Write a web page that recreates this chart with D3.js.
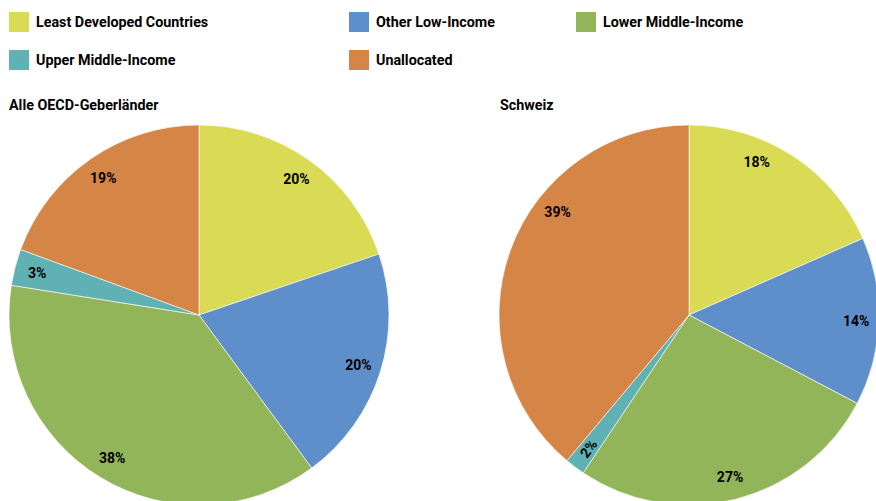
<!DOCTYPE html>
<html>
<head>
<meta charset="utf-8">
<script src="https://cdn.jsdelivr.net/npm/d3@7"></script>
<style>
  body { margin:0; background:#fff; }
  text { font-family: Roboto, "Open Sans", sans-serif; font-weight:bold; fill:#000; }
</style>
</head>
<body>
<svg id="chart" width="876" height="501"></svg>
<script>
// ---data---
var categories = ["Least Developed Countries","Other Low-Income","Lower Middle-Income","Upper Middle-Income","Unallocated"]
var colors = ["#d8db53","#5f8fcb","#93b55a","#5fb1b3","#d58545"]
var oecdValues = [19.8, 20.1, 37.6, 3.1, 19.4]
var oecdLabels = ["20%","20%","38%","3%","19%"]
var chValues = [18.4, 14.3, 26.7, 1.7, 38.9]
var chLabels = ["18%","14%","27%","2%","39%"]

// where the label sits across its slice (0.5 = middle), like the original
var oecdLabelFrac = [0.5, 0.5, 0.5, 0.5, 0.5]
var chLabelFrac = [0.36, 0.5, 0.5, 0.5, 0.63]

var svg = d3.select("#chart")

//---legend---
var legendPos = [[9,22],[349,22],[576,22],[9,60],[349,60]]
categories.forEach(function(c,i){
  var g = svg.append("g").attr("transform","translate("+legendPos[i][0]+","+legendPos[i][1]+")")
  g.append("rect").attr("x",0).attr("y",-10).attr("width",20).attr("height",20).attr("fill",colors[i])
  g.append("text").attr("x",27).attr("y",5).attr("font-size",14.3).text(c)
})

//---pie builder---
function buildPie(title, values, labels, frac, cx, cy, titleX, rotateSmall)
{
  var r = 190
  svg.append("text").attr("x",titleX).attr("y",110).attr("font-size",14.3).text(title)

  var pie = d3.pie().sort(null).value(function(d){ return d })
  var arc = d3.arc().innerRadius(0).outerRadius(r)
  var lr = r*0.88

  var g = svg.append("g").attr("transform","translate("+cx+","+cy+")")
  var arcs = pie(values)

  g.selectAll("path").data(arcs).enter().append("path")
   .attr("d",arc)
   .attr("fill",function(d,i){ return colors[i] })
   .attr("stroke","#fff").attr("stroke-width",0.6)

  g.selectAll("text.lbl").data(arcs).enter().append("text")
   .attr("class","lbl")
   .attr("font-size",14)
   .attr("text-anchor","middle")
   .attr("dy","0.35em")
   .attr("transform",function(d,i){
      var a = d.startAngle+(d.endAngle-d.startAngle)*frac[i]
      var t = "translate("+(lr*Math.sin(a))+","+(-lr*Math.cos(a))+")"
      if(rotateSmall && values[i] < 2.5)
        t += "rotate("+(a*180/Math.PI-270)+")"
      return t
   })
   .text(function(d,i){ return labels[i] })
}

buildPie("Alle OECD-Geberländer", oecdValues, oecdLabels, oecdLabelFrac, 199, 315, 9, false)
buildPie("Schweiz", chValues, chLabels, chLabelFrac, 689, 315, 500, true)
</script>
</body>
</html>
